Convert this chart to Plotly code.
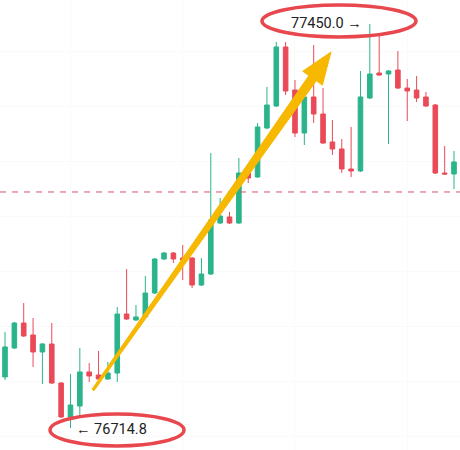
import numpy as np
import plotly.graph_objects as go

# candle OHLC (49 bars)
opens = [76807.6, 76860.3, 76905.8, 76884.0, 76853.1, 76867.6, 76796.6, 76734.8, 76754.8, 76816.7,
         76811.2, 76803.9, 76814.8, 76922.2, 76911.3, 76916.8, 76960.4, 77022.3, 77033.2, 77024.1,
         77024.1, 76975.0, 76995.0, 77087.8, 77098.8, 77087.8, 77178.8, 77171.6, 77260.7, 77300.8,
         77408.2, 77329.9, 77251.6, 77317.2, 77286.2, 77235.3, 77222.5, 77186.1, 77182.5, 77315.3,
         77360.8, 77359.0, 77366.3, 77333.5, 77329.9, 77317.2, 77302.6, 77178.8, 77177.0]
highs = [76889.5, 76907.7, 76942.2, 76914.9, 76869.4, 76905.8, 76798.5, 76813.0, 76860.3, 76833.0,
         76854.9, 76834.9, 76935.0, 77004.1, 76938.6, 76991.4, 77024.1, 77035.1, 77035.1, 77047.8,
         77026.0, 77024.1, 77215.2, 77133.3, 77107.9, 77206.1, 77180.7, 77269.8, 77335.4, 77417.3,
         77417.3, 77348.1, 77319.0, 77411.8, 77333.5, 77275.3, 77240.7, 77262.6, 77364.5, 77450.0,
         77430.0, 77366.3, 77400.9, 77349.9, 77355.4, 77326.3, 77304.4, 77228.0, 77218.9]
lows = [76802.1, 76858.5, 76880.4, 76825.8, 76794.8, 76794.8, 76732.9, 76714.8, 76734.8, 76798.5,
        76802.1, 76802.1, 76798.5, 76911.3, 76909.5, 76914.9, 76958.6, 77020.5, 77015.0, 76984.1,
        76969.5, 76973.2, 76993.2, 77086.0, 77086.0, 77086.0, 77160.6, 77169.7, 77258.9, 77299.0,
        77320.8, 77244.4, 77229.8, 77269.8, 77231.6, 77211.6, 77178.8, 77171.6, 77180.7, 77313.5,
        77355.4, 77231.6, 77331.7, 77273.5, 77308.1, 77299.0, 77177.0, 77175.2, 77149.7]
closes = [76862.2, 76905.8, 76882.2, 76853.1, 76867.6, 76796.6, 76734.8, 76756.6, 76816.7, 76809.4,
          76803.9, 76814.8, 76922.2, 76913.1, 76916.8, 76960.4, 77022.3, 77033.2, 77022.3, 77020.5,
          76975.0, 76995.0, 77093.3, 77100.6, 77087.8, 77178.8, 77169.7, 77262.6, 77302.6, 77408.2,
          77328.1, 77251.6, 77317.2, 77286.2, 77233.4, 77222.5, 77186.1, 77182.5, 77317.2, 77359.0,
          77357.2, 77364.5, 77333.5, 77328.1, 77315.3, 77300.8, 77178.8, 77177.0, 77198.9]
ref_price = 77144.3
hi_label = "77450.0 →"
lo_label = "← 76714.8"

GREEN = "#2bb48b"
RED   = "#ea4a57"
GOLD  = "#f6b800"
RING  = "#e8474e"
DASH  = "#d9546b"
TEXT  = "#222222"
GRID  = "#fafafa"

W, H = 460, 450
x = list(range(len(opens)))
hi_i = int(np.argmax(highs))
lo_i = int(np.argmin(lows))

fig = go.Figure()
fig.add_trace(go.Candlestick(
    x=x, open=opens, high=highs, low=lows, close=closes,
    increasing=dict(line=dict(color=GREEN, width=1), fillcolor=GREEN),
    decreasing=dict(line=dict(color=RED, width=1), fillcolor=RED),
    showlegend=False,
))

fig.add_hline(y=ref_price, line=dict(color=DASH, width=1, dash="6px,6px"))

# high / low labels
fig.add_annotation(x=hi_i, y=highs[hi_i], text=hi_label, showarrow=False,
                   xanchor="right", yanchor="middle", xshift=-6, yshift=1,
                   font=dict(family="Roboto", size=14.5, color=TEXT))
fig.add_annotation(x=lo_i, y=lows[lo_i], text=lo_label, showarrow=False,
                   xanchor="left", yanchor="middle", xshift=4, yshift=-2,
                   font=dict(family="Roboto", size=14.5, color=TEXT))

# red rings round the labels (pixel geometry -> paper)
def ring(cx, cy, rx, ry):
    fig.add_shape(type="circle", xref="paper", yref="paper",
                  x0=(cx - rx) / W, x1=(cx + rx) / W,
                  y0=1 - (cy + ry) / H, y1=1 - (cy - ry) / H,
                  line=dict(color=RING, width=3.5))

ring(339, 21, 77, 16)
ring(117, 430, 67, 16)

# tapered gold arrow
tail = np.array([93.0, 390.0])
tip = np.array([331.0, 52.0])
u = (tip - tail) / np.linalg.norm(tip - tail)
n = np.array([-u[1], u[0]])
head_len, head_half, tail_half, neck_half = 32, 12, 1.2, 4.5
base = tip - u * head_len
pts = [tail + n * tail_half, base + n * neck_half, base + n * head_half, tip,
       base - n * head_half, base - n * neck_half, tail - n * tail_half]
path = "M " + " L ".join(f"{px / W:.5f},{1 - py / H:.5f}" for px, py in pts) + " Z"
fig.add_shape(type="path", xref="paper", yref="paper", path=path,
              fillcolor=GOLD, line=dict(color=GOLD, width=1))

fig.update_layout(
    width=W, height=H,
    margin=dict(l=0, r=0, t=0, b=0),
    plot_bgcolor="white", paper_bgcolor="white",
    xaxis=dict(range=[-0.535, 48.64], rangeslider=dict(visible=False),
               showticklabels=False, ticks="", zeroline=False,
               showgrid=True, gridcolor=GRID, tick0=7, dtick=12),
    yaxis=dict(range=[76674.7, 77493.7], showticklabels=False, ticks="",
               zeroline=False, showgrid=True, gridcolor=GRID, dtick=100),
)

# page body has an 8px default margin; drop it so the chart sits at 0,0
fig.write_html("out.html", config={"displayModeBar": False},
               post_script="document.body.style.margin='0';")
